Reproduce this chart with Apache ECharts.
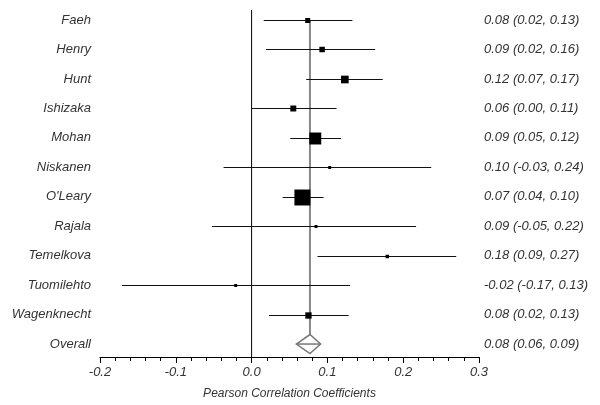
<!DOCTYPE html>
<html><head><meta charset="utf-8">
<script src="https://cdn.jsdelivr.net/npm/echarts@6/dist/echarts.min.js"></script>
<style>html,body{margin:0;padding:0;background:#fff}#c{width:600px;height:405px}</style>
</head><body><div id="c"></div>
<script>
// Study names (last entry is the pooled estimate)
const studies = ['Faeh', 'Henry', 'Hunt', 'Ishizaka', 'Mohan', 'Niskanen', "O'Leary", 'Rajala', 'Temelkova', 'Tuomilehto', 'Wagenknecht', 'Overall'];
// Point estimates and 95% CI
const est = [0.074, 0.093, 0.123, 0.055, 0.084, 0.103, 0.067, 0.085, 0.179, -0.021, 0.075, 0.077];
const lo  = [0.016, 0.019, 0.072, 0.000, 0.051, -0.037, 0.041, -0.052, 0.087, -0.171, 0.023, 0.059];
const hi  = [0.133, 0.163, 0.173, 0.112, 0.118, 0.237, 0.095, 0.217, 0.270, 0.130, 0.128, 0.091];
// Relative study weights (%), shown as square area
const weights = [4.0, 4.8, 9.4, 5.7, 22.9, 1.4, 40.7, 1.4, 1.9, 1.4, 6.4];
// Text column on the right
const ciText = ['0.08 (0.02, 0.13)', '0.09 (0.02, 0.16)', '0.12 (0.07, 0.17)', '0.06 (0.00, 0.11)', '0.09 (0.05, 0.12)', '0.10 (-0.03, 0.24)', '0.07 (0.04, 0.10)', '0.09 (-0.05, 0.22)', '0.18 (0.09, 0.27)', '-0.02 (-0.17, 0.13)', '0.08 (0.02, 0.13)', '0.08 (0.06, 0.09)'];
// X axis
const xMin = -0.2, xMax = 0.3, xStep = 0.1;
const xTitle = 'Pearson Correlation Coefficients';
// Row axis range (rows are 0..11, with a little room above/below)
const yMin = -0.34, yMax = 11.44;

const overallIdx = studies.length - 1;
const studyRows = studies.slice(0, overallIdx).map((s, i) => [i, est[i], lo[i], hi[i], weights[i]]);
const overallRow = [[overallIdx, est[overallIdx], lo[overallIdx], hi[overallIdx]]];
const rowIdx = studies.map((_, i) => i);

const font = { fontFamily: '"Liberation Sans", Arial, sans-serif', fontStyle: 'italic', fontSize: 13, color: '#333' };

const chart = echarts.init(document.getElementById('c'), null, { renderer: 'canvas' });
const DIAMOND_HALF = 9.5;

chart.setOption({
  animation: false,
  grid: { left: 100, right: 121, top: 10, bottom: 48 },
  xAxis: {
    type: 'value', min: xMin, max: xMax, interval: xStep,
    axisLine: { onZero: false, lineStyle: { color: '#000', width: 1 } },
    axisTick: { length: 6, lineStyle: { color: '#000' } },
    minorTick: { show: true, splitNumber: 5, length: 4, lineStyle: { color: '#000' } },
    splitLine: { show: false }, minorSplitLine: { show: false },
    axisLabel: Object.assign({}, font, { margin: 9, formatter: v => v.toFixed(1) }),
    name: xTitle, nameLocation: 'middle', nameGap: 31,
    nameTextStyle: Object.assign({}, font, { fontSize: 12 })
  },
  yAxis: [
    {
      type: 'value', inverse: true, min: yMin, max: yMax,
      axisLine: { show: false, onZero: false }, axisTick: { show: false }, splitLine: { show: false },
      axisLabel: Object.assign({}, font, { margin: 9, customValues: rowIdx, formatter: v => studies[v] })
    },
    {
      type: 'value', position: 'right', inverse: true, min: yMin, max: yMax,
      axisLine: { show: false, onZero: false }, axisTick: { show: false }, splitLine: { show: false },
      axisLabel: Object.assign({}, font, { margin: 5, customValues: rowIdx, formatter: v => ciText[v] })
    }
  ],
  series: [
    { // zero reference line
      type: 'line', xAxisIndex: 0, yAxisIndex: 0, symbol: 'none', silent: true, z: 1,
      data: [[0, yMin], [0, yMax]],
      lineStyle: { color: '#000', width: 1 }
    },
    { // pooled estimate reference line
      type: 'custom', xAxisIndex: 0, yAxisIndex: 0, z: 1, silent: true,
      data: overallRow,
      renderItem: (params, api) => {
        const top = api.coord([api.value(1), 0]);
        const bot = api.coord([api.value(1), api.value(0)]);
        return { type: 'line', shape: { x1: top[0], y1: top[1], x2: bot[0], y2: bot[1] - DIAMOND_HALF },
          style: { stroke: '#888', lineWidth: 2 } };
      }
    },
    { // studies
      type: 'custom', xAxisIndex: 0, yAxisIndex: 0, z: 3,
      data: studyRows,
      renderItem: (params, api) => {
        const p = api.coord([api.value(1), api.value(0)]);
        const l = api.coord([api.value(2), api.value(0)]);
        const h = api.coord([api.value(3), api.value(0)]);
        const s = 2.5 * Math.sqrt(api.value(4));
        const y = Math.round(p[1]) + 0.5;
        return { type: 'group', children: [
          { type: 'line', shape: { x1: l[0], y1: y, x2: h[0], y2: y }, style: { stroke: '#111', lineWidth: 1 } },
          { type: 'rect', shape: { x: p[0] - s / 2, y: y - s / 2, width: s, height: s }, style: { fill: '#000' } }
        ] };
      }
    },
    { // overall diamond
      type: 'custom', xAxisIndex: 0, yAxisIndex: 0, z: 3,
      data: overallRow,
      renderItem: (params, api) => {
        const p = api.coord([api.value(1), api.value(0)]);
        const l = api.coord([api.value(2), api.value(0)]);
        const h = api.coord([api.value(3), api.value(0)]);
        return { type: 'group', children: [
          { type: 'polygon', shape: { points: [[l[0], p[1]], [p[0], p[1] - DIAMOND_HALF], [h[0], p[1]], [p[0], p[1] + DIAMOND_HALF]] },
            style: { fill: '#fff', stroke: '#777', lineWidth: 1.5 } },
          { type: 'line', shape: { x1: l[0], y1: p[1], x2: h[0], y2: p[1] }, style: { stroke: '#777', lineWidth: 1.5 } }
        ] };
      }
    }
  ]
});
</script>
</body></html>
